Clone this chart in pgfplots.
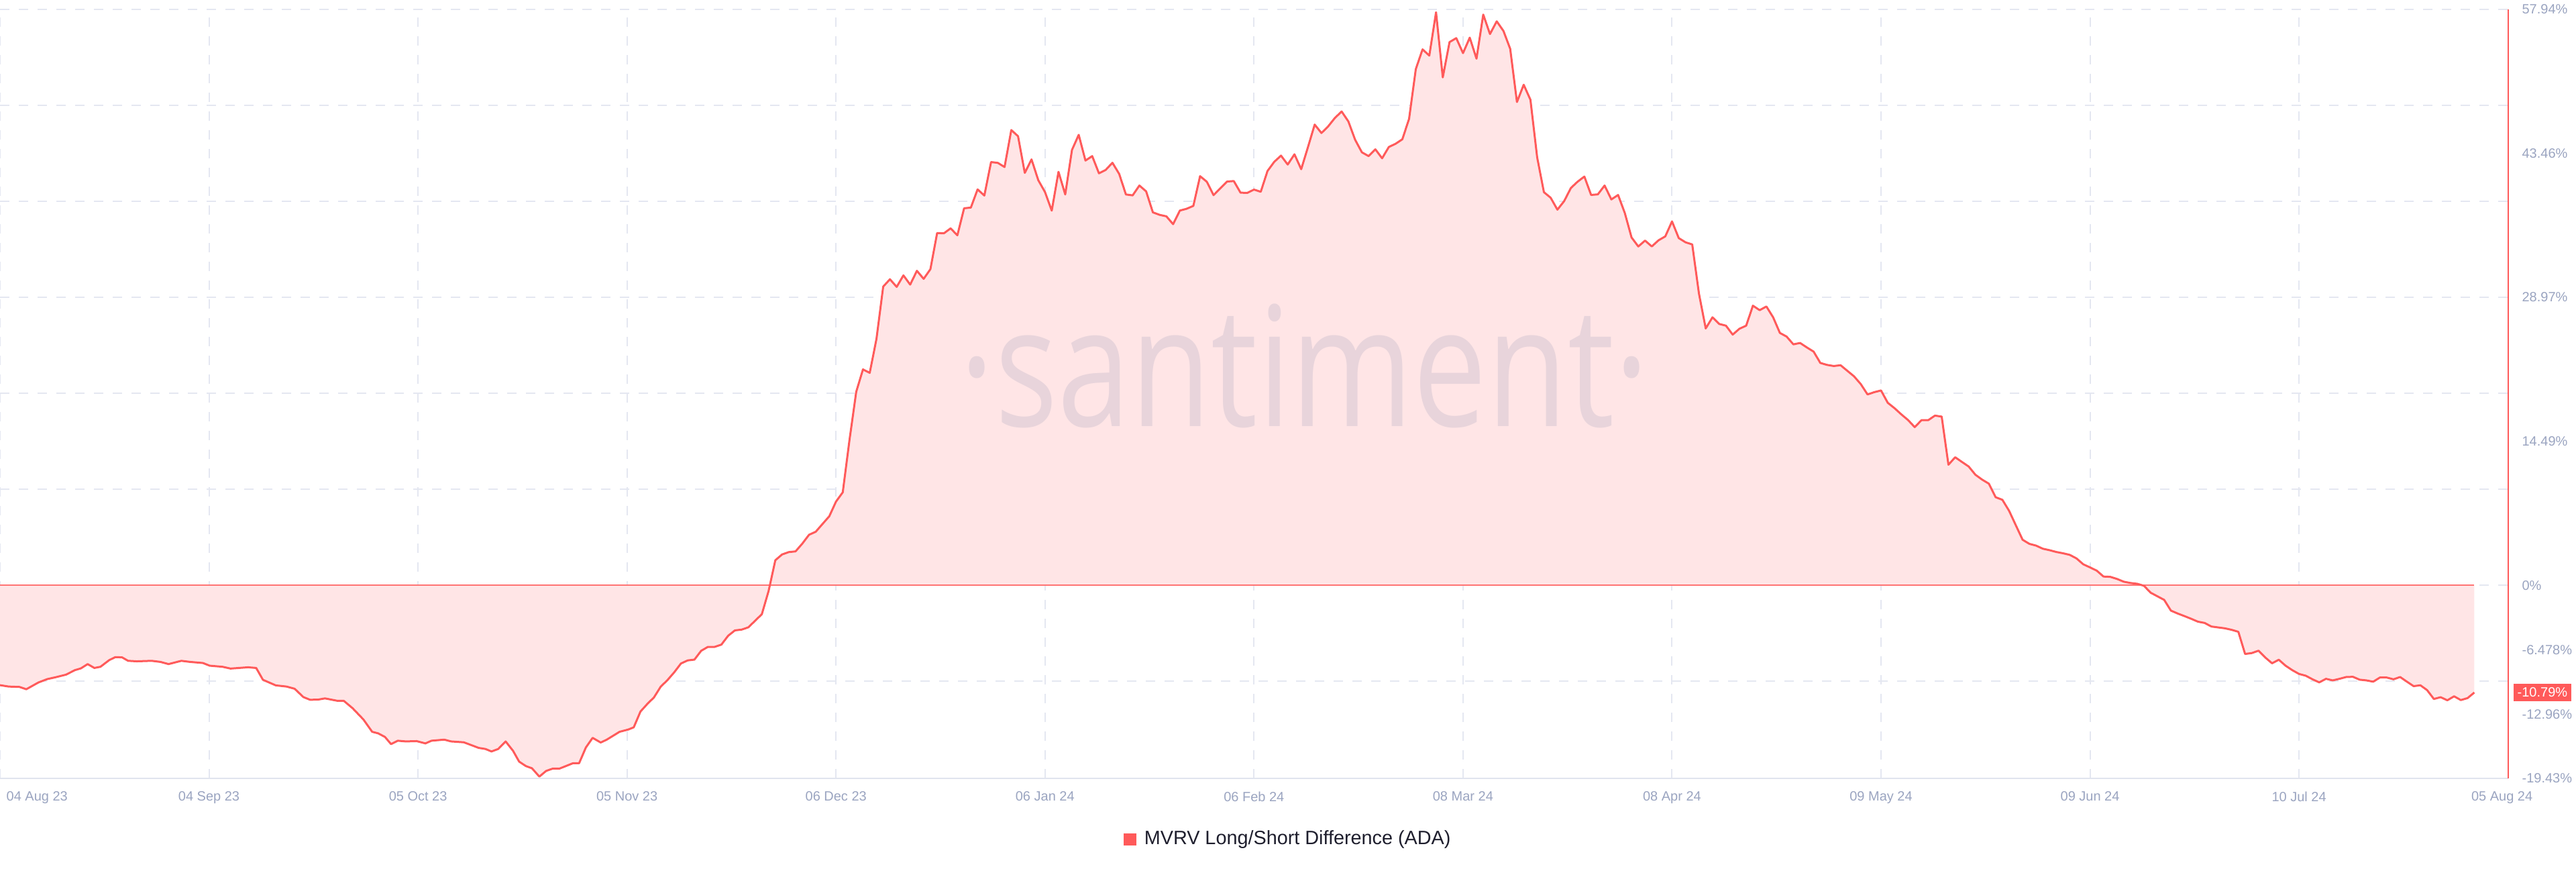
\documentclass[border=0pt]{standalone}
\usepackage{fontspec}
\setmainfont{Liberation Sans}
\newfontfamily\wmfont{Open Sans}
\usepackage{graphicx}
\usepackage{pgfplots}
\pgfplotsset{compat=1.18}
\usepackage{pgfplotstable}
\definecolor{lineRed}{RGB}{255,90,90}
\definecolor{zeroRed}{RGB}{255,115,115}
\definecolor{fillPink}{RGB}{255,229,230}
\definecolor{gridgray}{RGB}{228,231,241}
\definecolor{axisgray}{RGB}{224,228,238}
\definecolor{tickgray}{RGB}{154,164,192}
\definecolor{wmcolor}{RGB}{232,212,219}
\definecolor{legendtext}{RGB}{30,30,45}

\pgfplotstableread{
day val
0 -10.05
1.3 -10.19
2.9 -10.23
3.9 -10.46
5.7 -9.78
7.0 -9.44
8.2 -9.26
9.8 -8.99
11.1 -8.54
12.0 -8.36
13.0 -7.93
14.0 -8.32
14.9 -8.2
16.2 -7.53
17.1 -7.23
18.1 -7.25
19.0 -7.6
20.3 -7.65
22.5 -7.6
23.8 -7.71
25.0 -7.93
26.9 -7.6
28.2 -7.71
30.1 -7.82
31.1 -8.09
33.0 -8.2
34.2 -8.38
36.8 -8.25
38.0 -8.32
39.0 -9.51
40.9 -10.07
42.5 -10.19
43.7 -10.41
45.0 -11.25
46.0 -11.52
47.2 -11.5
48.2 -11.38
50.1 -11.63
51.0 -11.63
52.3 -12.37
53.9 -13.5
55.2 -14.74
56.1 -14.9
57.1 -15.26
58.0 -15.98
59.0 -15.64
60.2 -15.71
61.8 -15.68
63.1 -15.91
64.0 -15.64
65.9 -15.53
66.9 -15.71
68.8 -15.8
71.0 -16.36
72.0 -16.47
72.9 -16.72
73.9 -16.47
75.0 -15.71
76.1 -16.66
77.0 -17.74
78.0 -18.19
78.9 -18.41
80.0 -19.25
81.0 -18.68
82.0 -18.44
83.0 -18.44
85.0 -17.9
85.9 -17.9
86.9 -16.32
87.9 -15.35
89.1 -15.82
90.0 -15.53
91.9 -14.74
93.2 -14.51
94.0 -14.29
95 -12.7
96 -11.95
97 -11.28
98 -10.2
99 -9.54
100 -8.76
101 -7.87
102 -7.56
103 -7.48
104 -6.59
105 -6.2
106 -6.2
107 -5.97
108 -5.08
109 -4.54
110 -4.46
111 -4.23
112 -3.57
113 -2.91
114 -0.58
115 2.52
116 3.1
117 3.34
118 3.41
119 4.19
120 5.08
121 5.39
122 6.17
123 6.94
124 8.42
125 9.35
126 14.62
127 19.47
128 21.72
129 21.37
130 24.78
131 30.05
132 30.79
133 30.02
134 31.18
135 30.25
136 31.64
137 30.83
138 31.8
139 35.44
140 35.41
141 35.91
142 35.21
143 37.93
144 38.0
145 39.83
146 39.21
147 42.58
148 42.5
149 42.08
150 45.8
151 45.18
152 41.49
153 42.85
154 40.76
155 39.56
156 37.69
157 41.6
158 39.32
159 43.8
160 45.32
161 42.73
162 43.18
163 41.45
164 41.79
165 42.51
166 41.39
167 39.32
168 39.23
169 40.22
170 39.63
171 37.52
172 37.27
173 37.12
174 36.33
175 37.7
176 37.88
177 38.17
178 41.16
179 40.6
180 39.25
181 39.93
182 40.62
183 40.67
184 39.5
185 39.48
186 39.81
187 39.59
188 41.68
189 42.6
190 43.23
191 42.33
192 43.36
193 41.86
194 44.08
195 46.35
196 45.5
197 46.17
198 47.02
199 47.67
200 46.66
201 44.82
202 43.56
203 43.18
204 43.86
205 42.96
206 44.1
207 44.42
208 44.87
209 46.93
210 51.94
211 53.92
212 53.29
213 57.65
214 51.1
215 54.65
216 55.05
217 53.54
218 55.1
219 52.98
220 57.42
221 55.46
222 56.74
223 55.77
224 53.97
225 48.62
226 50.36
227 48.85
228 43.05
229 39.55
230 38.99
231 37.79
232 38.65
233 39.97
234 40.61
235 41.12
236 39.27
237 39.33
238 40.22
239 38.82
240 39.27
241 37.45
242 34.99
243 34.09
244 34.68
245 34.09
246 34.71
247 35.1
248 36.61
249 34.93
250 34.51
251 34.29
252 29.33
253 25.84
254 26.96
255 26.29
256 26.12
257 25.22
258 25.81
259 26.12
260 28.13
261 27.68
262 28.05
263 26.96
264 25.39
265 25.02
266 24.24
267 24.38
268 23.93
269 23.51
270 22.37
271 22.17
272 22.06
273 22.14
274 21.58
275 21.02
276 20.24
277 19.2
278 19.43
279 19.6
280 18.36
281 17.82
282 17.2
283 16.63
284 15.91
285 16.61
286 16.61
287 17.07
288 16.97
289 12.13
290 12.88
291 12.41
292 11.95
293 11.12
294 10.63
295 10.22
296 8.86
297 8.6
298 7.49
299 6.03
300 4.58
301 4.17
302 3.99
303 3.68
304 3.53
305 3.35
306 3.22
307 3.06
308 2.7
309 2.11
310 1.8
311 1.47
312 0.88
313 0.85
314 0.64
315 0.36
316 0.23
317 0.15
318 -0.05
319 -0.75
320 -1.11
321 -1.47
322 -2.55
323 -2.84
324 -3.1
325 -3.37
326 -3.66
327 -3.79
328 -4.15
329 -4.24
330 -4.33
331 -4.48
332 -4.68
333 -6.91
334 -6.82
335 -6.58
336 -7.27
337 -7.85
338 -7.49
339 -8.09
340 -8.54
341 -8.92
342 -9.1
343 -9.46
344 -9.77
345 -9.41
346 -9.57
347 -9.41
348 -9.23
349 -9.21
350 -9.5
351 -9.57
352 -9.7
353 -9.28
354 -9.28
355 -9.46
356 -9.23
357 -9.7
358 -10.15
359 -10.06
360 -10.55
361 -11.44
362 -11.26
363 -11.57
364 -11.17
365 -11.55
366 -11.35
367 -10.79
}\mvrv

\begin{document}
\begin{tikzpicture}
\path[use as bounding box] (0pt,-35pt) rectangle (960pt,290pt);
\begin{axis}[
  at={(0pt,0pt)}, anchor=south west,
  scale only axis, width=934.75pt, height=286.5pt,
  xmin=0, xmax=372.04, ymin=-19.43, ymax=57.94,
  axis x line*=bottom, axis y line*=right,
  x axis line style={draw=axisgray, line width=0.5pt},
  y axis line style={draw=lineRed, line width=0.6pt},
  major tick length=0pt,
  tick style={draw=none},
  clip mode=individual,
  xtick={0,31,62,93,124,155,186,217,248,279,310,341},
  xticklabels={,,,,,,,,,,,},
  xmajorgrids,
  extra x ticks={5.5,31,62,93,124,155,186,217,248,279,310,341,371.1},
  extra x tick labels={04 Aug 23,04 Sep 23,05 Oct 23,05 Nov 23,06 Dec 23,06 Jan 24,06 Feb 24,08 Mar 24,08 Apr 24,09 May 24,09 Jun 24,10 Jul 24,05 Aug 24},
  extra x tick style={grid=none},
  ytick={-9.657,0,9.657,19.313,28.97,38.627,48.283,57.94},
  yticklabels={,,,,,,,},
  ymajorgrids,
  extra y ticks={57.94,43.46,28.97,14.49,0,-6.478,-12.96,-19.43},
  extra y tick labels={57.94\%,43.46\%,28.97\%,14.49\%,0\%,-6.478\%,-12.96\%,-19.43\%},
  extra y tick style={grid=none},
  grid style={draw=gridgray, line width=0.5pt, dash pattern=on 3.5pt off 3.5pt},
  ticklabel style={font=\fontsize{5}{6}\selectfont, text=tickgray},
  xticklabel style={anchor=north, yshift=-1.4pt},
  yticklabel style={anchor=west, xshift=1.6pt},
]
\addplot[fill=fillPink, draw=none] table[x=day, y=val] {\mvrv} \closedcycle;
\node[anchor=base, text=wmcolor, inner sep=0pt] at (axis cs:193.5,16.0)
  {\scalebox{1}[1.27]{\wmfont\fontsize{49pt}{49pt}\selectfont ·santiment·}};
\addplot[zeroRed, line width=0.5pt] coordinates {(0,0) (367,0)};
\addplot[lineRed, line width=0.75pt, line join=round] table[x=day, y=val] {\mvrv};
\node[anchor=west, fill=lineRed, text=white, font=\fontsize{5}{6}\selectfont,
  inner xsep=1.45pt, inner ysep=1.5pt, xshift=1.75pt] at (axis cs:372.04,-10.79) {-10.79\%};
\end{axis}
\fill[lineRed] (418.75pt,-25pt) rectangle (423.5pt,-20.5pt);
\node[anchor=west, inner sep=0pt, text=legendtext, font=\fontsize{7.2}{8}\selectfont]
  at (426.25pt,-22.75pt) {MVRV Long/Short Difference (ADA)};
\end{tikzpicture}
\end{document}
